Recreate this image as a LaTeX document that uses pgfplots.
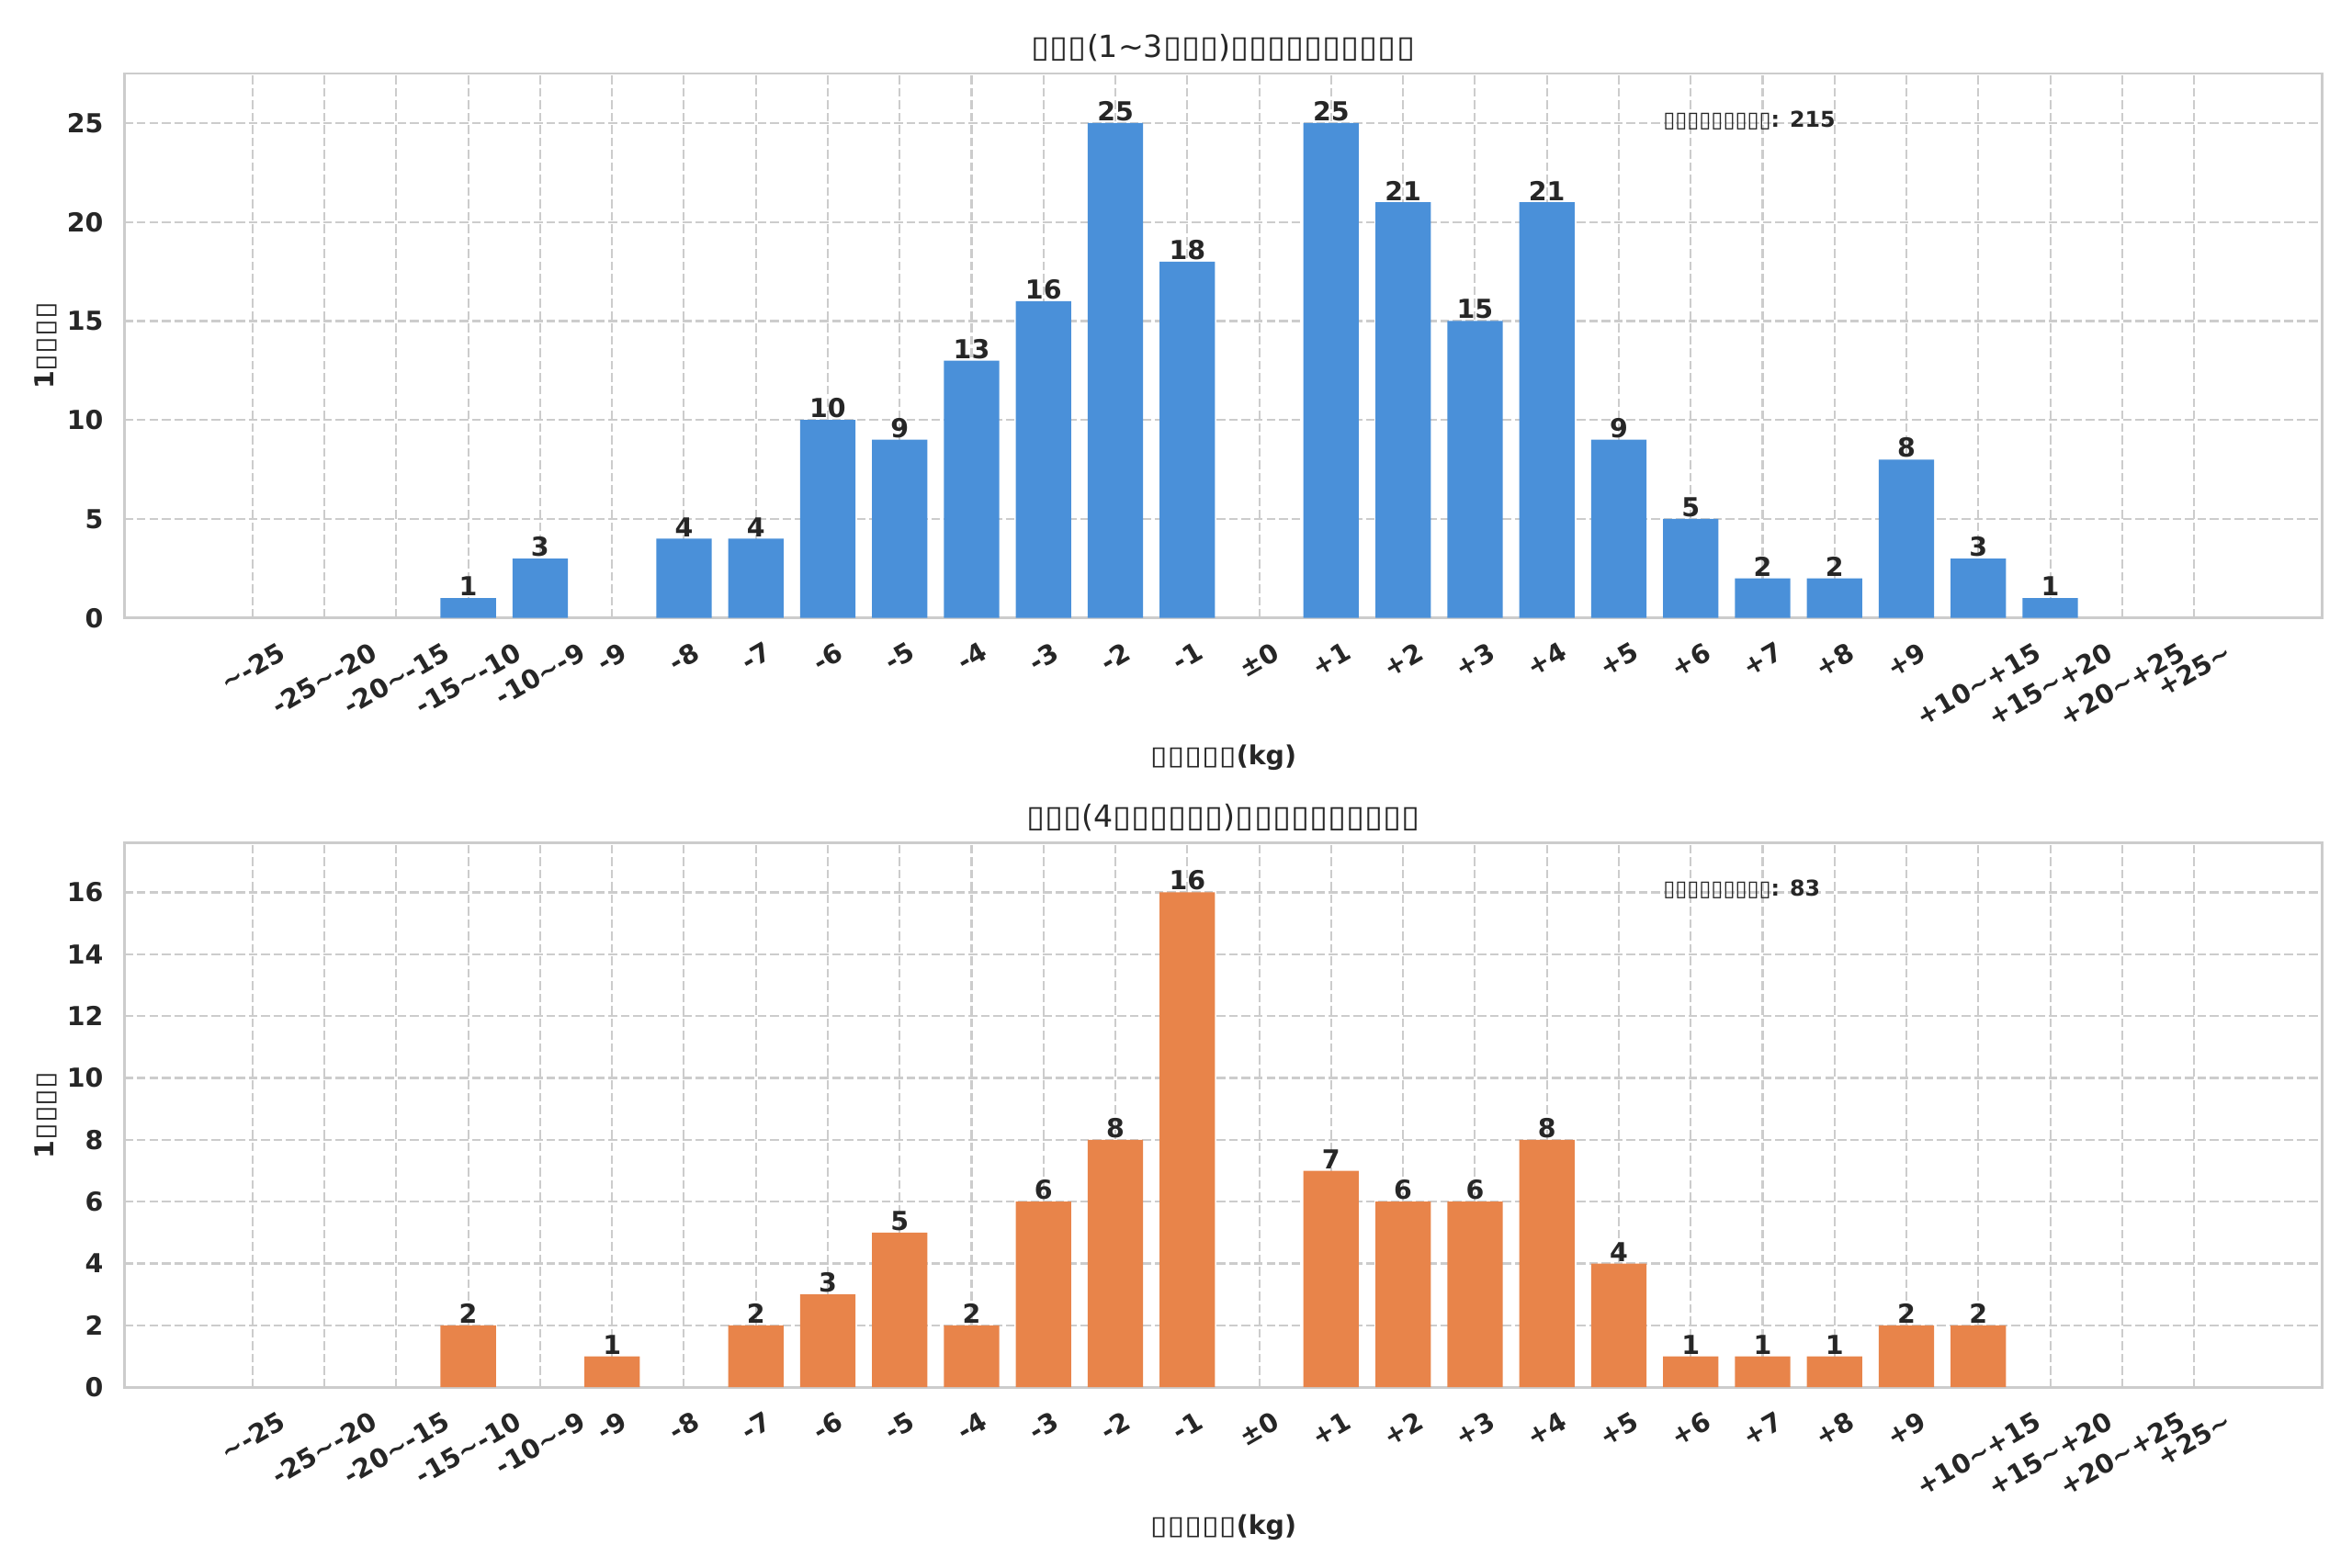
\documentclass[border=0pt]{standalone}
\usepackage{graphicx}
\usepackage{pgfplots}
\usepackage{pgfplotstable}
\pgfplotsset{compat=1.18}
\usepackage{fontspec}
\setmainfont{DejaVu Sans}
\definecolor{txt}{HTML}{262626}
\definecolor{gridc}{HTML}{CCCCCC}
\definecolor{barblue}{HTML}{4A90D9}
\definecolor{barorange}{HTML}{E8844A}
\newcommand{\tft}{\scalebox{1.1}[1]{▯}}
\newcommand{\tfl}{\scalebox{1.2}[1]{▯}}
\newcommand{\tfa}{▯}
\newcommand{\tl}{\textasciitilde}
\newcommand{\rl}[1]{\rotatebox{30}{#1}}
\newcommand{\tickfont}{\bfseries\fontsize{12}{14.4}\selectfont}

\pgfplotstableread{
x y
3 1
4 3
6 4
7 4
8 10
9 9
10 13
11 16
12 25
13 18
15 25
16 21
17 15
18 21
19 9
20 5
21 2
22 2
23 8
24 3
25 1
}\topdata

\pgfplotstableread{
x y
3 2
5 1
7 2
8 3
9 5
10 2
11 6
12 8
13 16
15 7
16 6
17 6
18 8
19 4
20 1
21 1
22 1
23 2
24 2
}\botdata

\pgfplotsset{
  /pgf/number format/assume math mode=true,
  mystyle/.style={
    scale only axis, width=1009.1pt, height=250pt,
    xmin=-1.78, xmax=28.78, ymin=0,
    axis line style={draw=gridc, line width=1.2pt},
    major tick length=0pt,
    xmajorgrids, ymajorgrids,
    major grid style={draw=gridc, line width=0.9pt, dash pattern=on 4pt off 1.7pt},
    xtick={0,...,27},
    xticklabels={{\rl{\tl-25}},{\rl{-25\tl-20}},{\rl{-20\tl-15}},{\rl{-15\tl-10}},{\rl{-10\tl-9}},{\rl{-9}},{\rl{-8}},{\rl{-7}},{\rl{-6}},{\rl{-5}},{\rl{-4}},{\rl{-3}},{\rl{-2}},{\rl{-1}},{\rl{±0}},{\rl{+1}},{\rl{+2}},{\rl{+3}},{\rl{+4}},{\rl{+5}},{\rl{+6}},{\rl{+7}},{\rl{+8}},{\rl{+9}},{\rl{+10\tl+15}},{\rl{+15\tl+20}},{\rl{+20\tl+25}},{\rl{+25\tl}}},
    xticklabel style={font=\tickfont, text=txt, anchor=north, inner sep=0pt, yshift=-10.5pt},
    yticklabel style={font=\tickfont, text=txt, anchor=east, inner sep=0pt, xshift=-9.5pt},
    title style={font=\fontsize{14}{16.8}\selectfont, text=txt, anchor=base, at={(axis description cs:0.5,1)}, yshift=1.3pt, inner sep=0pt},
    xlabel style={font=\tickfont, text=txt, anchor=base, at={(axis description cs:0.5,0)}, yshift=-67.6pt, inner sep=0pt},
    ylabel style={font=\tickfont, text=txt, anchor=center, at={(axis description cs:-0.0359,0.5)}, inner sep=0pt},
    xlabel={\tfl\tfl\tfl\tfl\tfl(kg)},
    ylabel={1\tfl\tfl\tfl\tfl},
    every node near coord/.append style={font=\tickfont, text=txt, inner sep=0pt, yshift=0.7pt},
  }
}

\begin{document}
\begin{tikzpicture}
\useasboundingbox (0,0) rectangle (1080pt,720.14pt);
\begin{axis}[mystyle, at={(57.16pt,436.35pt)}, anchor=south west,
  ymax=27.5, ytick={0,5,10,15,20,25},
  title={\tft\tft\tft(1\tl3\tft\tft\tft)\tft\tft\tft\tft\tft\tft\tft\tft\tft\tft}]
\addplot[ybar, bar width=0.77, fill=barblue, draw=none, nodes near coords] table[x=x,y=y] {\topdata};
\node[anchor=west, font=\bfseries\fontsize{10}{12}\selectfont, text=txt, inner sep=0pt] at (rel axis cs:0.7,0.913) {\tfa\tfa\tfa\tfa\tfa\tfa\tfa\tfa\tfa: 215};
\end{axis}
\begin{axis}[mystyle, at={(57.16pt,83.02pt)}, anchor=south west,
  ymax=17.6, ytick={0,2,4,6,8,10,12,14,16},
  title={\tft\tft\tft(4\tft\tft\tft\tft\tft\tft)\tft\tft\tft\tft\tft\tft\tft\tft\tft\tft}]
\addplot[ybar, bar width=0.77, fill=barorange, draw=none, nodes near coords] table[x=x,y=y] {\botdata};
\node[anchor=west, font=\bfseries\fontsize{10}{12}\selectfont, text=txt, inner sep=0pt] at (rel axis cs:0.7,0.915) {\tfa\tfa\tfa\tfa\tfa\tfa\tfa\tfa\tfa: 83};
\end{axis}
\end{tikzpicture}
\end{document}
